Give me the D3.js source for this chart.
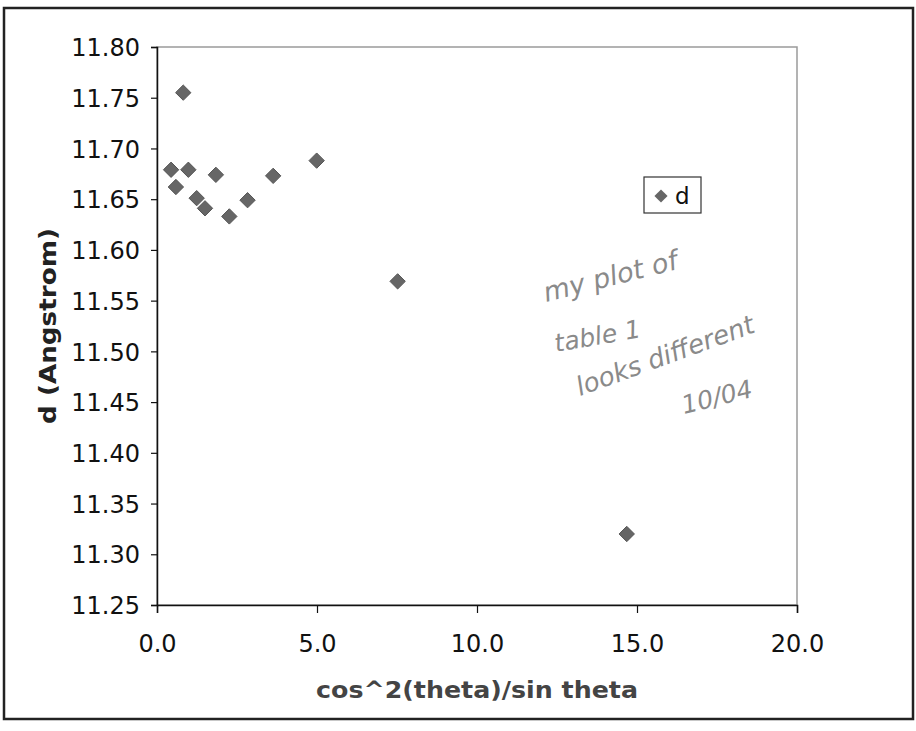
<!DOCTYPE html>
<html>
<head>
<meta charset="utf-8">
<script src="https://cdn.jsdelivr.net/npm/d3@7"></script>
<style>
  html, body { margin: 0; padding: 0; background: #fff; }
  svg { display: block; }
</style>
</head>
<body>
<div id="chart"></div>
<script>
// values
const xVals = [0.44, 0.59, 0.82, 0.98, 1.24, 1.50, 1.84, 2.26, 2.83, 3.63, 4.99, 7.52, 14.68];
const dVals = [11.679, 11.662, 11.755, 11.679, 11.651, 11.641, 11.674, 11.633, 11.649, 11.673, 11.688, 11.569, 11.320];
const xTicks = [0, 5, 10, 15, 20];
const yTicks = [11.25, 11.30, 11.35, 11.40, 11.45, 11.50, 11.55, 11.60, 11.65, 11.70, 11.75, 11.80];
const seriesName = "d";
const noteLines = ["my plot of", "table 1", "looks different", "10/04"];

const width = 916, height = 731;
const margin = {top: 47, right: 119, bottom: 126, left: 157};
const font = "'DejaVu Sans', Verdana, sans-serif";

const svg = d3.select("#chart").append("svg")
  .attr("width", width)
  .attr("height", height);

svg.append("rect")
  .attr("width", width).attr("height", height)
  .attr("fill", "#fff");

// outer frame
svg.append("rect")
  .attr("x", 4).attr("y", 8)
  .attr("width", 909).attr("height", 711)
  .attr("fill", "none")
  .attr("stroke", "#222")
  .attr("stroke-width", 2.5);

const sx = d3.scaleLinear()
  .domain([0, 20])
  .range([margin.left, width - margin.right]);

const sy = d3.scaleLinear()
  .domain([11.25, 11.80])
  .range([height - margin.bottom, margin.top]);

// plot area
svg.append("rect")
  .attr("x", sx(0)).attr("y", sy(11.80))
  .attr("width", sx(20) - sx(0))
  .attr("height", sy(11.25) - sy(11.80))
  .attr("fill", "none")
  .attr("stroke", "#9a9a9a")
  .attr("stroke-width", 1.5);

const xAxis = svg.append("g")
  .attr("transform", `translate(0,${sy(11.25)})`)
  .call(d3.axisBottom(sx).tickValues(xTicks).tickFormat(d3.format(".1f")).tickSizeOuter(0).tickSize(8).tickPadding(22));

const yAxis = svg.append("g")
  .attr("transform", `translate(${sx(0)},0)`)
  .call(d3.axisLeft(sy).tickValues(yTicks).tickFormat(d3.format(".2f")).tickSizeOuter(0).tickSize(6).tickPadding(11));

[xAxis, yAxis].forEach(a => {
  a.select(".domain").attr("stroke", "#111").attr("stroke-width", 1.5);
  a.selectAll(".tick line").attr("stroke", "#111").attr("stroke-width", 1.2);
  a.selectAll(".tick text")
    .attr("fill", "#111")
    .attr("font-family", font)
    .attr("font-size", 24);
});
yAxis.selectAll(".tick text").attr("dy", "0.36em");

// axis titles
svg.append("text")
  .attr("x", (sx(0) + sx(20)) / 2)
  .attr("y", 698)
  .attr("text-anchor", "middle")
  .attr("font-family", font)
  .attr("font-weight", "bold")
  .attr("font-size", 23)
  .attr("fill", "#444")
  .attr("textLength", 322)
  .attr("lengthAdjust", "spacingAndGlyphs")
  .text("cos^2(theta)/sin theta");

svg.append("text")
  .attr("transform", `translate(56,${(sy(11.25) + sy(11.80)) / 2}) rotate(-90)`)
  .attr("text-anchor", "middle")
  .attr("font-family", font)
  .attr("font-weight", "bold")
  .attr("font-size", 23)
  .attr("fill", "#222")
  .attr("textLength", 196)
  .attr("lengthAdjust", "spacingAndGlyphs")
  .text("d (Angstrom)");

// points
const diamond = d3.symbol().type(d3.symbolDiamond2).size(150);
svg.append("g")
  .selectAll("path")
  .data(xVals.map((x, i) => ({x, d: dVals[i]})))
  .join("path")
  .attr("transform", p => `translate(${sx(p.x)},${sy(p.d)})`)
  .attr("d", diamond)
  .attr("fill", "#666")
  .attr("stroke", "#555")
  .attr("stroke-width", 1);

// legend
const legend = svg.append("g").attr("transform", "translate(644,177)");
legend.append("rect")
  .attr("width", 57).attr("height", 36)
  .attr("fill", "#fff")
  .attr("stroke", "#333")
  .attr("stroke-width", 1.2);
legend.append("path")
  .attr("transform", "translate(17,19)")
  .attr("d", d3.symbol().type(d3.symbolDiamond2).size(110))
  .attr("fill", "#666");
legend.append("text")
  .attr("x", 31).attr("y", 27)
  .attr("font-family", font)
  .attr("font-size", 23)
  .attr("fill", "#111")
  .text(seriesName);

// pencil note
const notePos = [
  {x: 546, y: 302, r: -14, s: 27},
  {x: 556, y: 352, r: -10, s: 25},
  {x: 580, y: 396, r: -20, s: 26},
  {x: 684, y: 414, r: -14, s: 25}
];
svg.append("g")
  .selectAll("text")
  .data(noteLines)
  .join("text")
  .attr("transform", (t, i) => `translate(${notePos[i].x},${notePos[i].y}) rotate(${notePos[i].r})`)
  .attr("font-family", "'DejaVu Sans', sans-serif")
  .attr("font-style", "italic")
  .attr("font-weight", 200)
  .attr("font-size", (t, i) => notePos[i].s)
  .attr("fill", "#8a8a8a")
  .text(t => t);
</script>
</body>
</html>
